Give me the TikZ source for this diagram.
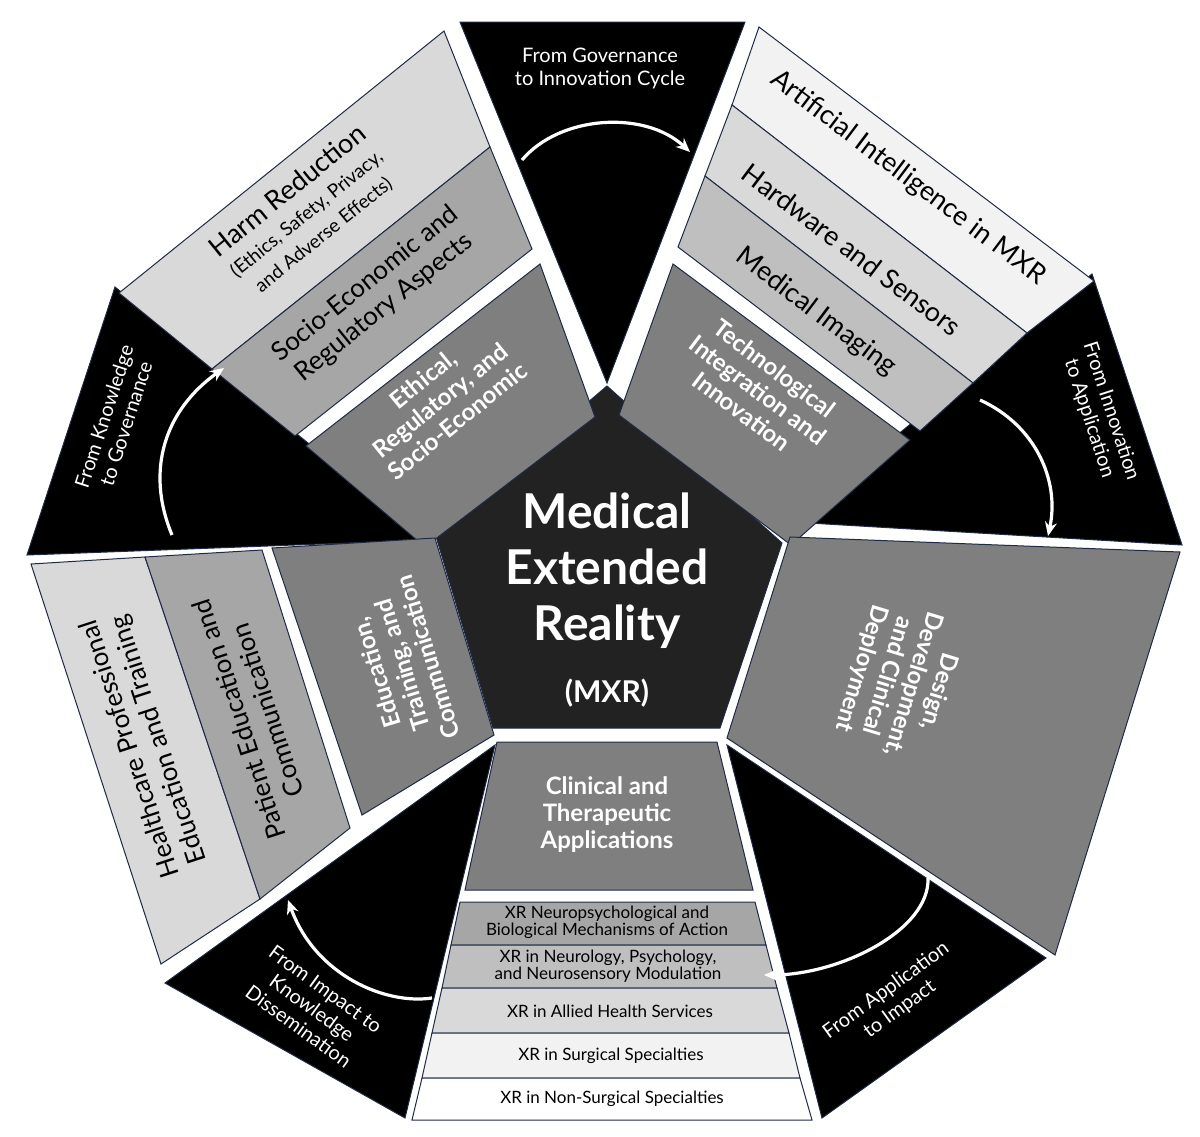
\documentclass[tikz,border=0pt]{standalone}
\usepackage{fontspec}
\setmainfont{Lato}
\usetikzlibrary{arrows.meta}
\definecolor{edge}{HTML}{1F2A44}
\definecolor{g1}{HTML}{F2F2F2}
\definecolor{g2}{HTML}{D9D9D9}
\definecolor{g3}{HTML}{BFBFBF}
\definecolor{g4}{HTML}{A6A6A6}
\definecolor{g5}{HTML}{7F7F7F}
\definecolor{core}{HTML}{222222}
\tikzset{
 band/.style={draw=edge,line width=0.5pt},
 wedge/.style={fill=black,draw=edge,line width=0.5pt},
 flow/.style={white,line width=1.6pt,-{Stealth[length=7pt,width=6pt]}},
 wlab/.style={text=white,align=center,font=\fontsize{10}{11.5}\selectfont},
 cat/.style={text=white,align=center,font=\bfseries\fontsize{12}{13.5}\selectfont},
 sub/.style={text=black,align=center,font=\fontsize{12}{13.5}\selectfont},
 item/.style={text=black,align=center,font=\fontsize{8.5}{8.5}\selectfont},
}
\begin{document}
\begin{tikzpicture}[x=0.5pt,y=-0.5pt]
\useasboundingbox (0,0) rectangle (1200,1136);
% black wedges
\fill[wedge] (607,383) -- (460,22) -- (745,22) -- cycle;
\fill[wedge] (792,522) -- (1092,274) -- (1182,545) -- cycle;
\fill[wedge] (727,745) -- (1046,958) -- (822,1118) -- cycle;
\fill[wedge] (495,745) -- (165,983) -- (405,1118) -- cycle;
\fill[wedge] (428,540) -- (115,287) -- (27,555) -- cycle;
% centre pentagon
\fill[core,draw=edge,line width=0.5pt] (607,386) -- (782,543) -- (720,728) -- (493,728) -- (435,533) -- cycle;
% upper-left sector
\filldraw[band,fill=g2] (119,293) -- (444,31) -- (490,147) -- (212,369) -- cycle;
\filldraw[band,fill=g4] (212,369) -- (490,147) -- (532,249) -- (295,436) -- cycle;
\filldraw[band,fill=g5] (306,446) -- (540,264) -- (595,417) -- (425,547) -- cycle;
% upper-right sector
\filldraw[band,fill=g1] (759,27) -- (1094,281) -- (1027,333) -- (732,105) -- cycle;
\filldraw[band,fill=g2] (732,105) -- (1027,333) -- (973,383) -- (705,176) -- cycle;
\filldraw[band,fill=g3] (705,176) -- (973,383) -- (920,431) -- (678,247) -- cycle;
\filldraw[band,fill=g5] (673,264) -- (910,440) -- (791,545) -- (619,415) -- cycle;
% right sector
\filldraw[band,fill=g5] (790,537) -- (1180,552) -- (1055,955) -- (727,738) -- cycle;
% bottom sector
\filldraw[band,fill=g5] (497,742) -- (717,742) -- (753,890) -- (465,890) -- cycle;
\filldraw[band,fill=g4] (460,902) -- (755,902) -- (766,945) -- (451,945) -- cycle;
\filldraw[band,fill=g3] (451,945) -- (766,945) -- (777,988) -- (442,988) -- cycle;
\filldraw[band,fill=g2] (442,988) -- (777,988) -- (789,1033) -- (432,1033) -- cycle;
\filldraw[band,fill=g1] (432,1033) -- (789,1033) -- (800,1078) -- (422,1078) -- cycle;
\filldraw[band,fill=white] (422,1078) -- (800,1078) -- (812,1120) -- (412,1120) -- cycle;
% left sector
\filldraw[band,fill=g2] (31,564) -- (145,557) -- (260,899) -- (161,964) -- cycle;
\filldraw[band,fill=g4] (145,557) -- (262,550) -- (350,828) -- (260,899) -- cycle;
\filldraw[band,fill=g5] (272,548) -- (435,538) -- (494,735) -- (362,815) -- cycle;

% centre text
\node[text=white,align=center,font=\bfseries\fontsize{24}{28}\selectfont] (mxr) at (607,600) {Medical\\Extended\\Reality\\[3pt]{\fontsize{15}{18}\selectfont(MXR)}};

% wedge labels
\node[wlab] (l1) at (600,68) {From Governance\\to Innovation Cycle};
\node[wlab,rotate=-72] (l2) at (1100,415) {From Innovation\\to Application};
\node[wlab,rotate=36] (l3) at (893,1000) {From Application\\to Impact};
\node[wlab,rotate=-36] (l4) at (312,1008) {From Impact to\\Knowledge\\Dissemination};
\node[wlab,rotate=72] (l5) at (115,420) {From Knowledge\\to Governance};

% flow arrows
\coordinate (a1s) at (522,160); \coordinate (a1e) at (690,152);
\coordinate (a2s) at (980,400); \coordinate (a2e) at (1048,536);
\coordinate (a3s) at (928,878); \coordinate (a3e) at (764,975);
\coordinate (a4s) at (432,998); \coordinate (a4e) at (288,900);
\coordinate (a5s) at (172,535); \coordinate (a5e) at (224,368);
\draw[flow] (a1s) .. controls (560,115) and (645,110) .. (a1e);
\draw[flow] (a2s) .. controls (1035,425) and (1060,480) .. (a2e);
\draw[flow] (a3s) .. controls (930,930) and (840,975) .. (a3e);
\draw[flow] (a4s) .. controls (385,1005) and (315,975) .. (a4e);
\draw[flow] (a5s) .. controls (145,470) and (165,410) .. (a5e);

% upper-left texts
\node[sub,rotate=39] (harm) at (305,212) {{\fontsize{13.5}{15}\selectfont Harm Reduction}\\{\fontsize{9.5}{12}\selectfont (Ethics, Safety, Privacy,}\\{\fontsize{9.5}{12}\selectfont and Adverse Effects)}};
\node[sub,rotate=39,font=\fontsize{13}{15}\selectfont] (socio) at (375,296) {Socio-Economic and\\Regulatory Aspects};
\node[cat,rotate=39] (eth) at (440,400) {Ethical,\\Regulatory, and\\Socio-Economic};
% upper-right texts
\node[sub,rotate=-37,font=\fontsize{13.5}{15}\selectfont] (ai) at (908,178) {Artificial Intelligence in MXR};
\node[sub,rotate=-37,font=\fontsize{13.5}{15}\selectfont] (hw) at (852,250) {Hardware and Sensors};
\node[sub,rotate=-37,font=\fontsize{13.5}{15}\selectfont] (img) at (816,312) {Medical Imaging};
\node[cat,rotate=-37] (tech) at (758,390) {Technological\\Integration and\\Innovation};
% right
\node[cat,rotate=-107] (des) at (900,680) {Design,\\Development,\\and Clinical\\Deployment};
% bottom
\node[cat] (clin) at (607,815) {Clinical and\\Therapeutic\\Applications};
\node[item] (i1) at (607,922) {XR Neuropsychological and\\Biological Mechanisms of Action};
\node[item] (i2) at (608,966) {XR in Neurology, Psychology,\\and Neurosensory Modulation};
\node[item] (i3) at (610,1011) {XR in Allied Health Services};
\node[item] (i4) at (611,1056) {XR in Surgical Specialties};
\node[item] (i5) at (612,1099) {XR in Non-Surgical Specialties};
% left
\node[sub,rotate=108,font=\fontsize{13}{15}\selectfont] (hc) at (145,744) {Healthcare Professional\\Education and Training};
\node[sub,rotate=108,font=\fontsize{13}{15}\selectfont] (pat) at (253,715) {Patient Education and\\Communication};
\node[cat,rotate=107] (edu) at (402,665) {Education,\\Training, and\\Communication};
\end{tikzpicture}
\end{document}
